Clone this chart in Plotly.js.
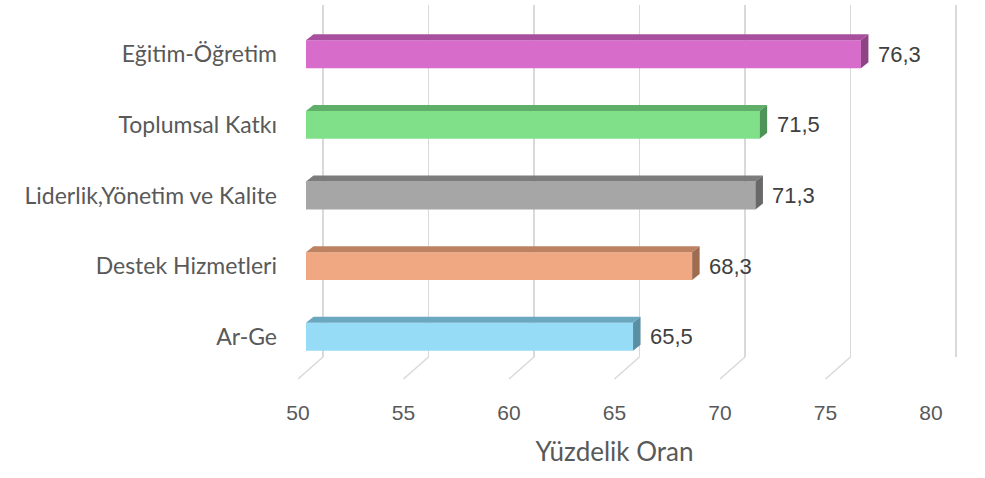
<!DOCTYPE html>
<html>
<head>
<meta charset="utf-8">
<script src="https://cdn.plot.ly/plotly-3.0.1.min.js"></script>
<style>html,body{margin:0;padding:0;background:#fff}#chart{width:985px;height:478px}</style>
</head>
<body>
<div id="chart"></div>
<script>
// ---- data (top to bottom as shown) ----
const categories = ["Eğitim-Öğretim", "Toplumsal Katkı", "Liderlik,Yönetim ve Kalite", "Destek Hizmetleri", "Ar-Ge"];
const values = [76.3, 71.5, 71.3, 68.3, 65.5];
const tickValues = [50, 55, 60, 65, 70, 75, 80];
const axisTitle = "Yüzdelik Oran";

// ---- styles ----
const frontColors = ["#d86ccb", "#80e08a", "#a6a6a6", "#f0a882", "#96dcf6"];
const topColors   = ["#a8509d", "#5fae69", "#7c7c7c", "#bd8262", "#6aa8bf"];
const sideColors  = ["#8e4384", "#4e9357", "#686868", "#a06c51", "#5a8fa3"];

const W = 985, H = 478;
const px = v => v / W;
const py = v => 1 - v / H;
const S = 21.1; // px per unit

const n = categories.length;
const ypos = categories.map((c, i) => n - 1 - i);
const barW = 0.395;
const dx = 7.5 / S;       // depth offset in x units
const dy = 6 / 70.5;      // depth offset in category units

const traces = [];
// back wall grid subplot (drawn first, so it stays beneath the bars)
traces.push({type: 'scatter', mode: 'none', x: [50, 80], y: [0, 1], xaxis: 'x', yaxis: 'y', hoverinfo: 'skip', showlegend: false});

traces.push({
  type: 'bar', orientation: 'h', x: values.map(v => v - 50), y: ypos, base: 50,
  width: barW, marker: {color: frontColors, line: {width: 0}},
  xaxis: 'x2', yaxis: 'y2', hoverinfo: 'skip', showlegend: false
});

values.forEach((v, i) => {
  const c = ypos[i], t = c + barW / 2, b = c - barW / 2;
  traces.push({
    type: 'scatter', mode: 'lines', fill: 'toself', fillcolor: topColors[i],
    line: {width: 0, color: topColors[i]},
    x: [50, v, v + dx, 50 + dx, 50], y: [t, t, t + dy, t + dy, t],
    xaxis: 'x2', yaxis: 'y2', hoverinfo: 'skip', showlegend: false
  });
  traces.push({
    type: 'scatter', mode: 'lines', fill: 'toself', fillcolor: sideColors[i],
    line: {width: 0, color: sideColors[i]},
    x: [v, v + dx, v + dx, v, v], y: [b, b + dy, t + dy, t, b],
    xaxis: 'x2', yaxis: 'y2', hoverinfo: 'skip', showlegend: false
  });
});
// floor/labels subplot
traces.push({type: 'scatter', mode: 'none', x: [50, 80], y: [0, 1], xaxis: 'x3', yaxis: 'y3', hoverinfo: 'skip', showlegend: false});

// floor diagonals from front label positions to back wall
const floorDx = 25 / S;
const shapes = tickValues.map(t => ({
  type: 'line', xref: 'x3', yref: 'paper',
  x0: t, y0: py(379), x1: t + floorDx, y1: py(357),
  line: {color: '#d9d9d9', width: 1.5}, layer: 'below'
}));

const annotations = values.map((v, i) => ({
  x: v, y: ypos[i], xref: 'x2', yref: 'y2', text: v.toFixed(1).replace('.', ','),
  showarrow: false, xanchor: 'left', yanchor: 'middle', xshift: 15, yshift: 0,
  font: {family: 'Liberation Sans, Arial, sans-serif', size: 22, color: '#404040'}
}));

const pad = 1;
const layout = {
  width: W, height: H,
  margin: {l: 0, r: 0, t: 0, b: 0},
  paper_bgcolor: '#ffffff', plot_bgcolor: 'rgba(0,0,0,0)',
  showlegend: false,
  xaxis: {
    domain: [px(323 - pad * S), px(323 + (30 + pad) * S)], range: [50 - pad, 80 + pad],
    tickvals: tickValues, showgrid: true, gridcolor: '#d9d9d9', gridwidth: 1.5,
    zeroline: false, showline: false, showticklabels: false, ticks: '',
    anchor: 'y', fixedrange: true
  },
  yaxis: {
    domain: [py(357), py(5)], range: [0, 1],
    showgrid: false, zeroline: false, showline: false, showticklabels: false, ticks: '',
    anchor: 'x', fixedrange: true
  },
  xaxis2: {
    domain: [px(306), px(306 + 30 * S)], range: [50, 80],
    showgrid: false, zeroline: false, showline: false, showticklabels: false, ticks: '',
    anchor: 'y2', fixedrange: true
  },
  yaxis2: {
    domain: [py(372), py(19)], range: [-0.5, 4.5],
    tickvals: ypos, ticktext: categories,
    showgrid: false, zeroline: false, showline: false, ticks: '',
    ticklabelstandoff: 28,
    tickfont: {family: 'Lato, sans-serif', size: 23, color: '#595959'},
    anchor: 'x2', automargin: false, fixedrange: true
  },
  xaxis3: {
    domain: [px(298), px(298 + 30 * S)], range: [50, 80],
    tickvals: tickValues, showgrid: false, zeroline: false, showline: false, ticks: '',
    ticklabelstandoff: 8,
    tickfont: {family: 'Liberation Sans, Arial, sans-serif', size: 21, color: '#595959'},
    anchor: 'y3', fixedrange: true,
    title: {text: axisTitle, standoff: 19, font: {family: 'Lato, sans-serif', size: 26, color: '#595959'}}
  },
  yaxis3: {
    domain: [py(390), py(380)], range: [0, 1],
    showgrid: false, zeroline: false, showline: false, showticklabels: false, ticks: '',
    anchor: 'x3', fixedrange: true
  },
  shapes: shapes,
  annotations: annotations
};

Plotly.newPlot('chart', traces, layout, {displayModeBar: false, staticPlot: true});
</script>
</body>
</html>
